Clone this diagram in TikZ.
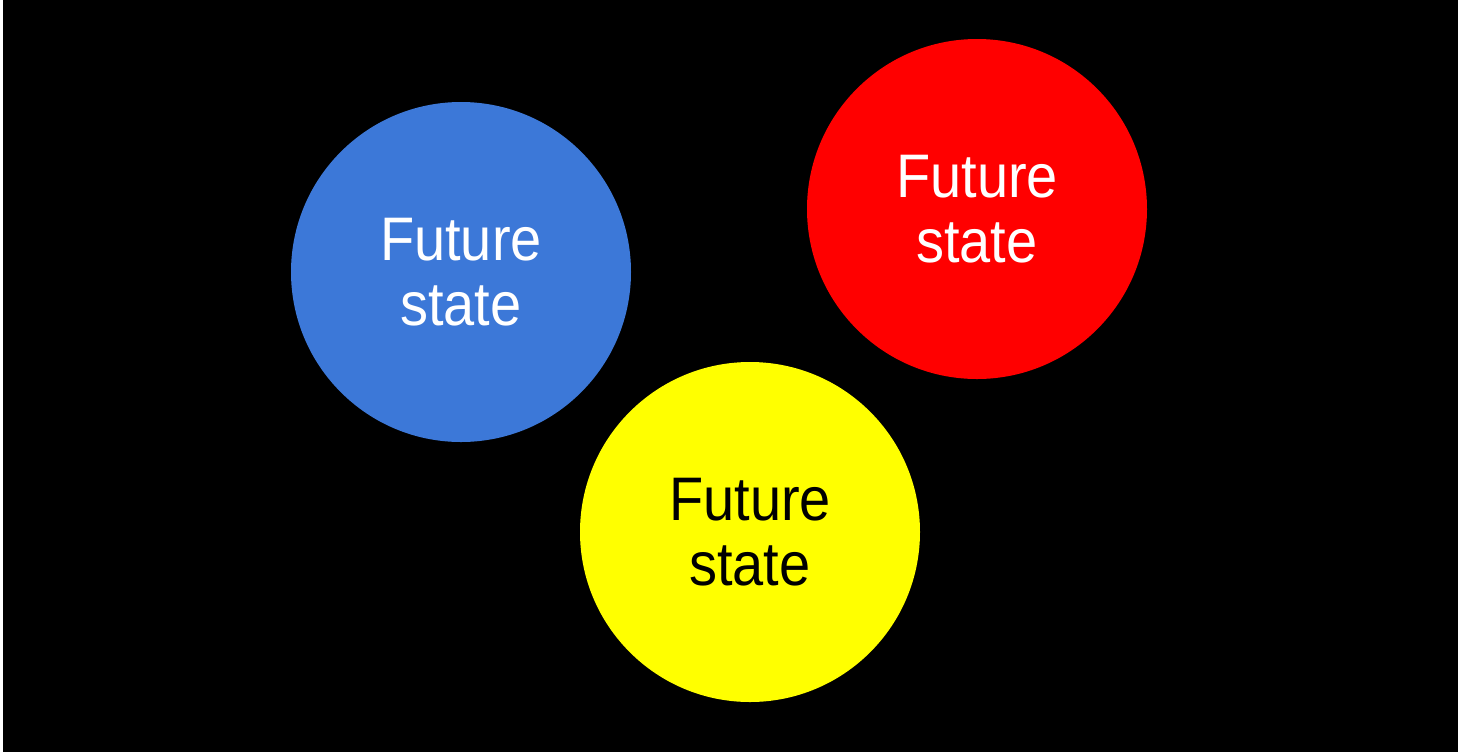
\documentclass[tikz,border=0pt]{standalone}
\usepackage{fontspec}
\setmainfont[FakeStretch=0.91]{Liberation Sans}
\usepackage{tikz}
\usetikzlibrary{positioning}
\definecolor{stateblue}{HTML}{3C78D8}
\definecolor{statered}{HTML}{FF0000}
\definecolor{stateyellow}{HTML}{FFFF00}

\begin{document}
\begin{tikzpicture}[
        every node/.style={circle, minimum size=3.4cm, inner sep=0pt, align=center,
            font=\fontsize{17.5}{18.6}\selectfont},
        future/.style={fill=#1, text=white}
        ]

        % Background
        \fill[white] (0,0) rectangle (14.6,7.52);
        \fill[black] (0.03,0) rectangle (14.58,7.52);
        \useasboundingbox (0,0) rectangle (14.6,7.52);

        % Nodes
        \node (blue) [future=stateblue] at (4.61,4.80) {Future\\state};
        \node (red) [future=statered] at (9.77,5.43) {Future\\state};
        \node (yellow) [future=stateyellow, text=black] at (7.50,2.20) {Future\\state};

    \end{tikzpicture}
\end{document}
